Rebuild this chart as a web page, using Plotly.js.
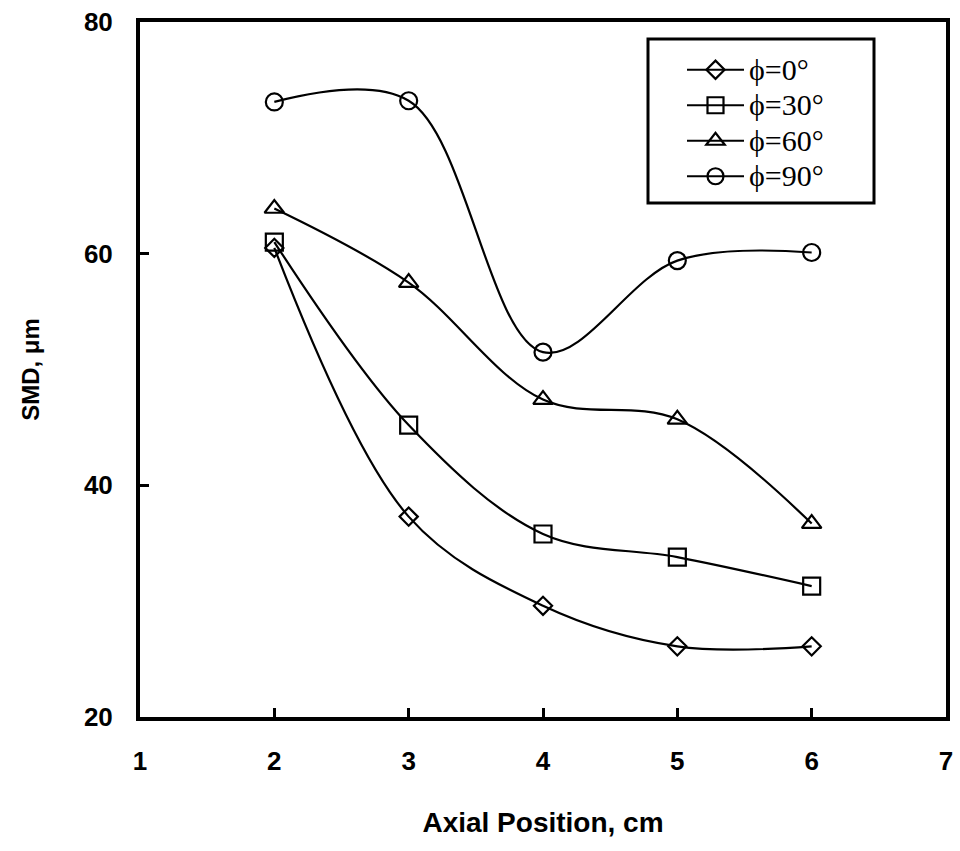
<!DOCTYPE html>
<html>
<head>
<meta charset="utf-8">
<script src="https://cdn.plot.ly/plotly-3.0.1.min.js"></script>
<style>body{margin:0;background:#fff;} #chart{width:960px;height:851px;}</style>
</head>
<body>
<div id="chart"></div>
<script>
const axialPos = [2, 3, 4, 5, 6];
const seriesNames = ["\u03d5=0\u00b0", "\u03d5=30\u00b0", "\u03d5=60\u00b0", "\u03d5=90\u00b0"];
const smd0 = [60.5, 37.3, 29.6, 26.1, 26.1];
const smd30 = [61.0, 45.2, 35.8, 33.8, 31.3];
const smd60 = [63.9, 57.5, 47.4, 45.7, 36.7];
const smd90 = [73.1, 73.2, 51.5, 59.4, 60.1];
const symbols = ["diamond-open", "square-open", "triangle-up-open", "circle-open"];
const sizes = [14, 17, 17, 17];
const xTicks = [1, 2, 3, 4, 5, 6, 7];
const yTicks = [20, 40, 60, 80];

const allY = [smd0, smd30, smd60, smd90];
const traces = allY.map((ys, i) => ({
  x: axialPos, y: ys,
  name: '<span style="font-size:30px">' + seriesNames[i] + '</span>',
  type: "scatter", mode: "lines+markers",
  line: {color: "#000", width: 2.2, shape: "spline", smoothing: 1},
  marker: {symbol: symbols[i], size: sizes[i], color: "#000", line: {color: "#000", width: 2.2}}
}));

const sans = "Liberation Sans, Arial, sans-serif";
const tickFont = {family: sans, size: 26, color: "#000", weight: 700};
const layout = {
  width: 960, height: 851,
  margin: {l: 140, r: 14, t: 22, b: 134},
  paper_bgcolor: "#fff", plot_bgcolor: "#fff",
  showlegend: true,
  legend: {
    x: (682 - 140) / 806, y: (717 - 47) / 695, xanchor: "left", yanchor: "top",
    bgcolor: "rgba(0,0,0,0)", borderwidth: 0,
    font: {family: "Liberation Serif, Times New Roman, serif", size: 25, color: "#000"},
    itemwidth: 57, tracegroupgap: 0
  },
  xaxis: {
    range: [1, 7], tickvals: xTicks, ticktext: xTicks.map(String),
    ticks: "inside", ticklen: 9, tickwidth: 3, tickcolor: "#000",
    showline: true, linewidth: 4, linecolor: "#000", mirror: true,
    showgrid: false, zeroline: false, tickfont: tickFont, ticklabelstandoff: 18,
    title: {text: "Axial Position, cm", font: {family: sans, size: 28, color: "#000", weight: 700}, standoff: 38}
  },
  yaxis: {
    range: [20, 80], tickvals: yTicks, ticktext: yTicks.map(String),
    ticks: "inside", ticklen: 9, tickwidth: 3, tickcolor: "#000",
    showline: true, linewidth: 4, linecolor: "#000", mirror: true,
    showgrid: false, zeroline: false, tickfont: tickFont, ticklabelstandoff: 18,
    title: {text: "SMD, \u03bcm", font: {family: sans, size: 24, color: "#000", weight: 700}, standoff: 38}
  },
  shapes: [{
    type: "rect", xref: "paper", yref: "paper",
    x0: (648 - 140) / 806, x1: (874 - 140) / 806,
    y0: (717 - 203) / 695, y1: (717 - 39) / 695,
    line: {color: "#000", width: 3}, fillcolor: "rgba(0,0,0,0)", layer: "below"
  }]
};
Plotly.newPlot("chart", traces, layout, {displayModeBar: false, staticPlot: true});
</script>
</body>
</html>
